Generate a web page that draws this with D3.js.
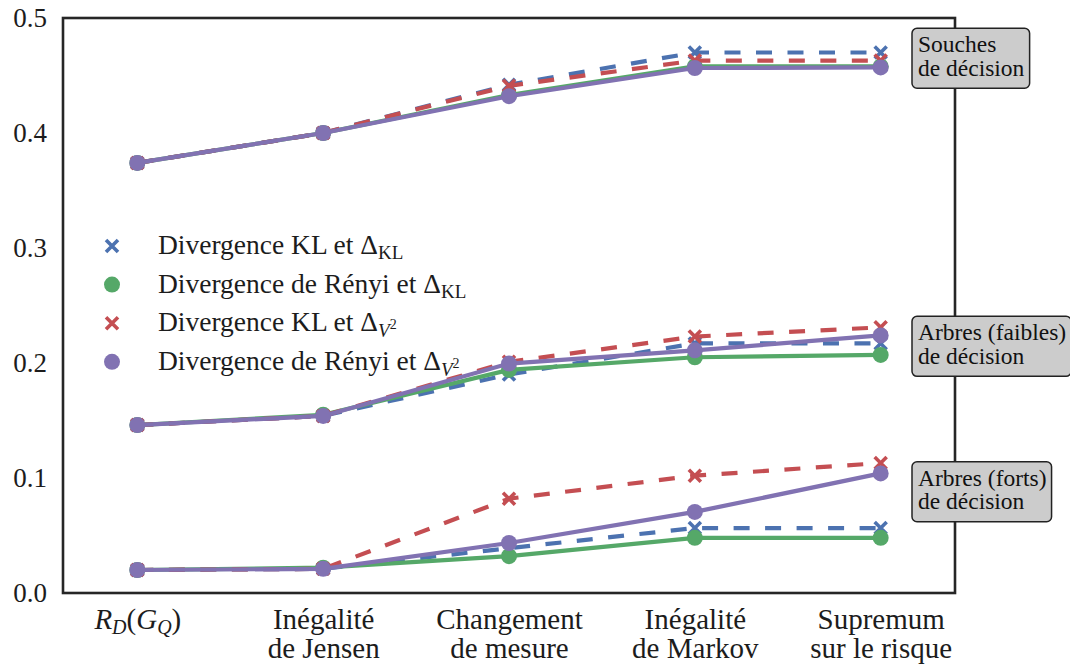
<!DOCTYPE html>
<html>
<head>
<meta charset="utf-8">
<script src="https://cdn.jsdelivr.net/npm/d3@7"></script>
<style>
  html, body { margin: 0; padding: 0; background: #fff; }
  svg { display: block; font-family: "Liberation Serif", "DejaVu Serif", serif; }
</style>
</head>
<body>
<svg id="chart" width="1070" height="667"></svg>
<script>
// Étapes successives de la borne (axe des abscisses)
const stages = ["R_D(G_Q)", "Inégalité|de Jensen", "Changement|de mesure", "Inégalité|de Markov", "Supremum|sur le risque"];
const yTicks = [0.0, 0.1, 0.2, 0.3, 0.4, 0.5];

// Souches de décision
const souchesKL_DeltaKL    = [0.374, 0.400, 0.442, 0.470, 0.470];
const souchesRenyi_DeltaKL = [0.374, 0.400, 0.433, 0.458, 0.458];
const souchesKL_DeltaV2    = [0.374, 0.400, 0.441, 0.463, 0.463];
const souchesRenyi_DeltaV2 = [0.374, 0.400, 0.432, 0.4565, 0.457];

// Arbres (faibles) de décision
const faiblesKL_DeltaKL    = [0.146, 0.154, 0.190, 0.217, 0.217];
const faiblesRenyi_DeltaKL = [0.146, 0.155, 0.194, 0.205, 0.207];
const faiblesKL_DeltaV2    = [0.146, 0.154, 0.201, 0.223, 0.231];
const faiblesRenyi_DeltaV2 = [0.146, 0.154, 0.1995, 0.211, 0.224];

// Arbres (forts) de décision
const fortsKL_DeltaKL    = [0.020, 0.021, 0.039, 0.0565, 0.0565];
const fortsRenyi_DeltaKL = [0.020, 0.022, 0.032, 0.048, 0.048];
const fortsKL_DeltaV2    = [0.020, 0.021, 0.082, 0.102, 0.113];
const fortsRenyi_DeltaV2 = [0.020, 0.021, 0.0435, 0.0705, 0.104];

const groupNames = ["Souches|de décision", "Arbres (faibles)|de décision", "Arbres (forts)|de décision"];
const groupLabelY = [0.465, 0.2145, 0.088];

const seriesDefs = [
  { key: "klkl",  color: "#4C72B0", dashed: true,  marker: "x", groups: [souchesKL_DeltaKL, faiblesKL_DeltaKL, fortsKL_DeltaKL],
    label: [["Divergence KL et Δ"], ["KL", "sub"]] },
  { key: "rkl",   color: "#55A868", dashed: false, marker: "o", groups: [souchesRenyi_DeltaKL, faiblesRenyi_DeltaKL, fortsRenyi_DeltaKL],
    label: [["Divergence de Rényi et Δ"], ["KL", "sub"]] },
  { key: "klv2",  color: "#C44E52", dashed: true,  marker: "x", groups: [souchesKL_DeltaV2, faiblesKL_DeltaV2, fortsKL_DeltaV2],
    label: [["Divergence KL et Δ"], ["V", "subit"], ["2", "sup"]] },
  { key: "rv2",   color: "#8172B2", dashed: false, marker: "o", groups: [souchesRenyi_DeltaV2, faiblesRenyi_DeltaV2, fortsRenyi_DeltaV2],
    label: [["Divergence de Rényi et Δ"], ["V", "subit"], ["2", "sup"]] }
];

const svg = d3.select("#chart");
const frame = { left: 63, right: 955, top: 18, bottom: 593 };
const ink = "#1c1c1c";
const serif = "Liberation Serif, DejaVu Serif, serif";

const x = d3.scaleLinear().domain([-0.4, stages.length - 1 + 0.4]).range([frame.left, frame.right]);
const y = d3.scaleLinear().domain([0, 0.5]).range([frame.bottom, frame.top]);

// Axe des ordonnées
const yAxis = svg.append("g").attr("transform", `translate(${frame.left},0)`)
  .call(d3.axisLeft(y).tickValues(yTicks).tickFormat(d3.format(".1f")).tickSize(0).tickPadding(16));
yAxis.select(".domain").remove();
yAxis.selectAll("text").attr("font-size", 27).attr("fill", ink).attr("font-family", serif);

// Axe des abscisses (étiquettes sur deux lignes)
const xAxis = svg.append("g").attr("transform", `translate(0,${frame.bottom})`)
  .call(d3.axisBottom(x).tickValues(d3.range(stages.length)).tickFormat("").tickSize(0));
xAxis.select(".domain").remove();
xAxis.selectAll(".tick").each(function(d) {
  const t = d3.select(this).append("text")
    .attr("text-anchor", "middle").attr("font-size", 29).attr("fill", ink)
    .attr("font-family", serif);
  const lab = stages[d];
  if (lab === "R_D(G_Q)") {
    t.attr("y", 36);
    t.append("tspan").attr("font-style", "italic").text("R");
    t.append("tspan").attr("font-style", "italic").attr("font-size", 20).attr("dy", 5).text("D");
    t.append("tspan").attr("dy", -5).text("(");
    t.append("tspan").attr("font-style", "italic").text("G");
    t.append("tspan").attr("font-style", "italic").attr("font-size", 20).attr("dy", 5).text("Q");
    t.append("tspan").attr("dy", -5).text(")");
  } else {
    const parts = lab.split("|");
    parts.forEach((p, i) => {
      t.append("tspan").attr("x", 0).attr("y", 36 + i * 29).text(p);
    });
  }
});

// Cadre
svg.append("rect")
  .attr("x", frame.left).attr("y", frame.top)
  .attr("width", frame.right - frame.left).attr("height", frame.bottom - frame.top)
  .attr("fill", "none").attr("stroke", "#262626").attr("stroke-width", 2.6);

const line = d3.line().x((d, i) => x(i)).y(d => y(d));
const plot = svg.append("g");

function drawMarker(g, type, color) {
  if (type === "x") {
    g.append("path").attr("d", "M-6,-6L6,6M-6,6L6,-6")
      .attr("stroke", color).attr("stroke-width", 3.6).attr("fill", "none");
  } else {
    g.append("circle").attr("r", 8).attr("fill", color);
  }
}

seriesDefs.forEach(s => {
  s.groups.forEach(vals => {
    plot.append("path").datum(vals)
      .attr("d", line).attr("fill", "none")
      .attr("stroke", s.color).attr("stroke-width", 4.2)
      .attr("stroke-dasharray", s.dashed ? "16,15.5" : null);
    vals.forEach((v, i) => {
      const g = plot.append("g").attr("transform", `translate(${x(i)},${y(v)})`);
      drawMarker(g, s.marker, s.color);
    });
  });
});

// Légende
const legend = svg.append("g");
seriesDefs.forEach((s, i) => {
  const cy = 246 + i * 38.6;
  const g = legend.append("g").attr("transform", `translate(112,${cy})`);
  drawMarker(g, s.marker, s.color);
  const t = legend.append("text").attr("x", 158).attr("y", cy + 8)
    .attr("font-size", 27.5).attr("fill", ink);
  s.label.forEach(([txt, kind]) => {
    const ts = t.append("tspan").text(txt);
    if (kind === "sub") ts.attr("font-size", 19).attr("dy", 5);
    if (kind === "subit") ts.attr("font-size", 19).attr("font-style", "italic").attr("dy", 6);
    if (kind === "sup") ts.attr("font-size", 14).attr("dy", -8);
  });
});

// Étiquettes des groupes
groupNames.forEach((name, gi) => {
  const cy = y(groupLabelY[gi]);
  const g = svg.append("g");
  const rect = g.append("rect");
  const t = g.append("text").attr("font-size", 23.5).attr("fill", "#111");
  const lines = name.split("|");
  lines.forEach((l, i) => {
    t.append("tspan").attr("x", 918).attr("y", cy - 6 + i * 23.5).text(l);
  });
  const bb = t.node().getBBox();
  rect.attr("x", 912).attr("y", cy - 30)
    .attr("width", bb.x + bb.width + 5 - 912).attr("height", 60)
    .attr("rx", 5).attr("ry", 5)
    .attr("fill", "#cccccc").attr("stroke", "#222").attr("stroke-width", 1.5);
});
</script>
</body>
</html>
